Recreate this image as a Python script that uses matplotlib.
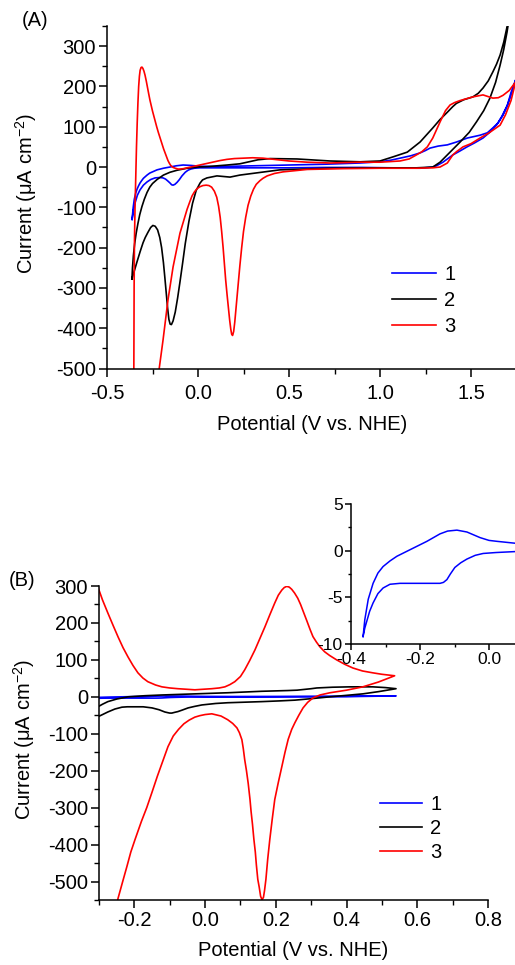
import numpy as np
import matplotlib
matplotlib.use("Agg")
import matplotlib.pyplot as plt
from matplotlib.ticker import MultipleLocator

plt.rcParams['font.family'] = ['Liberation Sans', 'DejaVu Sans']
plt.rcParams['mathtext.default'] = 'regular'
plt.rcParams['axes.unicode_minus'] = False

## data, panel (A): full CV loops (anodic sweep then cathodic sweep)
a_v1 = [-0.362, -0.356, -0.35, -0.343, -0.335, -0.327, -0.319, -0.31, -0.30, -0.29, -0.28, -0.265, -0.25,
        -0.225, -0.19, -0.154, -0.12, -0.082, -0.04, 0.011, 0.1, 0.3, 0.5, 0.7, 0.89, 1.0, 1.06, 1.11, 1.17,
        1.22, 1.25, 1.275, 1.32, 1.37, 1.42, 1.48, 1.55, 1.59, 1.62, 1.65, 1.676, 1.696, 1.714, 1.73, 1.745,
        1.72, 1.70, 1.67, 1.64, 1.60, 1.566, 1.52, 1.478, 1.44, 1.40, 1.37, 1.346, 1.31, 1.29, 1.22, 1.07,
        0.9, 0.7, 0.5, 0.3, 0.1, 0.011, -0.02, -0.04, -0.055, -0.07, -0.088, -0.102, -0.115, -0.127,
        -0.137, -0.145, -0.153, -0.165, -0.178, -0.192, -0.21, -0.236, -0.26, -0.28, -0.3, -0.319, -0.333,
        -0.345, -0.355, -0.362]
a_i1 = [-130, -100, -80, -66, -55, -47, -40, -34, -28, -24, -20, -15, -12,
        -7, -3, 0, 3, 5, 4, 2, 1, 3, 5, 7, 10, 13, 17, 22, 28,
        35, 41, 47, 52, 55, 62, 72, 79, 85, 97, 110, 129, 148, 171, 192, 216,
        185, 154, 126, 104, 85, 72, 60, 50, 40, 30, 20, 12, 3, 0, -3, -2,
        -1, -1, -2, -2, -2, -2, -3, -5, -8, -13, -22, -31, -38, -43,
        -45, -44, -40, -35, -30, -27, -26, -27, -31, -37, -45, -57, -70,
        -88, -108, -130]

a_v2 = [-0.363, -0.36, -0.355, -0.348, -0.34, -0.33, -0.32, -0.308, -0.295, -0.28, -0.265, -0.25,
        -0.225, -0.19, -0.154, -0.115, -0.06, 0.0, 0.05, 0.16, 0.23, 0.27, 0.33, 0.396, 0.544, 0.725,
        0.89, 1.0, 1.07, 1.15, 1.22, 1.29, 1.33, 1.37, 1.40, 1.42, 1.46, 1.51, 1.54, 1.566, 1.595, 1.62,
        1.64, 1.66, 1.68, 1.70, 1.72, 1.74,
        1.75, 1.72, 1.698, 1.68, 1.66, 1.635, 1.604, 1.57, 1.53, 1.49, 1.44, 1.385, 1.33, 1.29, 1.2, 1.0,
        0.725, 0.45, 0.23, 0.176, 0.104, 0.049, 0.025, 0.011, -0.01, -0.03, -0.05, -0.07, -0.085, -0.099,
        -0.112, -0.125, -0.137, -0.146, -0.153, -0.16, -0.167, -0.174, -0.182, -0.19, -0.2, -0.21,
        -0.222, -0.235, -0.248, -0.26, -0.275, -0.29, -0.302, -0.318, -0.335, -0.35, -0.363]
a_i2 = [-278, -250, -220, -190, -165, -140, -118, -98, -80, -63, -50, -41,
        -31, -20, -13, -8, -3, 0, 1, 5, 8, 12, 18, 21, 20, 15,
        13, 15, 25, 37, 62, 97, 118, 136, 150, 158, 167, 174, 183, 196, 214, 236,
        255, 278, 310, 352, 400, 480,
        480, 400, 335, 292, 253, 210, 171, 140, 112, 86, 62, 37, 12, 0, -2, -2,
        -3, -7, -20, -25, -22, -27, -32, -40, -58, -90, -135, -190, -240, -285,
        -325, -360, -382, -391, -390, -378, -350, -315, -275, -237, -200, -175,
        -156, -147, -145, -150, -162, -175, -188, -210, -235, -258, -278]

a_v3 = [-0.353, -0.352, -0.351, -0.349, -0.346, -0.342, -0.338, -0.334, -0.33, -0.326, -0.322, -0.318,
        -0.313, -0.308, -0.303, -0.297, -0.291, -0.284, -0.278, -0.271, -0.264, -0.257, -0.25, -0.243,
        -0.236, -0.227, -0.218, -0.208, -0.198, -0.189, -0.18, -0.172, -0.165, -0.157, -0.15, -0.143,
        -0.137, -0.125, -0.11, -0.095, -0.08, -0.06, -0.04, -0.01, 0.02, 0.05, 0.082, 0.12, 0.159, 0.2,
        0.25, 0.30, 0.357, 0.42, 0.5, 0.6, 0.725, 0.89, 1.0, 1.11, 1.16, 1.20, 1.23, 1.26, 1.29, 1.31,
        1.33, 1.36, 1.385, 1.41, 1.44, 1.51, 1.566, 1.60, 1.62, 1.65, 1.676, 1.71, 1.745,
        1.72, 1.69, 1.66, 1.60, 1.55, 1.50, 1.456, 1.42, 1.40, 1.37, 1.33, 1.29, 1.2, 1.0, 0.8, 0.6,
        0.467, 0.42, 0.38, 0.357, 0.34, 0.32, 0.305, 0.29, 0.275, 0.262, 0.25, 0.24, 0.23, 0.22, 0.21,
        0.202, 0.196, 0.19, 0.185, 0.18, 0.174, 0.167, 0.16, 0.152, 0.145, 0.138, 0.13, 0.122, 0.113,
        0.103, 0.09, 0.075, 0.06, 0.045, 0.027, 0.01, -0.006, -0.02, -0.033, -0.044, -0.06, -0.08,
        -0.099, -0.137, -0.165, -0.192, -0.214, -0.23]
a_i3 = [-560, -420, -300, -180, -100, -20, 50, 110, 160, 200, 225, 240,
        247, 248, 245, 238, 228, 213, 198, 182, 166, 152, 139, 127,
        115, 100, 86, 72, 58, 45, 34, 24, 16, 9, 4, 1,
        -1, -3, -5, -5, -4, -2, 0, 3, 6, 9, 12, 16, 19, 21,
        22, 23, 22, 19, 15, 12, 10, 12, 12, 15, 20, 30, 38, 50, 72, 92,
        112, 140, 154, 160, 165, 174, 179, 174, 171, 172, 178, 190, 211,
        165, 130, 104, 85, 72, 58, 50, 38, 30, 10, 0, -2, -3, -3, -4, -6,
        -12, -16, -22, -28, -34, -43, -55, -72, -95, -125, -160, -200, -245, -295, -345,
        -385, -408, -418, -415, -402, -380, -350, -318, -280, -240, -200, -160, -125, -97,
        -75, -60, -50, -46, -45, -46, -49, -54, -62, -72, -85, -105, -135,
        -164, -248, -330, -429, -503, -560]

## data, panel (B)
b_v1 = [-0.365, -0.36, -0.35, -0.336, -0.322, -0.307, -0.287, -0.267, -0.229, -0.18, -0.142, -0.12,
        -0.093, -0.064, -0.045, -0.026, 0.0, 0.023, 0.075, 0.2, 0.4, 0.54,
        0.4, 0.2, 0.075, 0.02, -0.017, -0.04, -0.064, -0.082, -0.099, -0.112, -0.122, -0.132, -0.142,
        -0.175, -0.209, -0.258, -0.287, -0.307, -0.322, -0.336, -0.346, -0.353, -0.36, -0.365]
b_i1 = [-9.2, -7.4, -5.2, -3.5, -2.4, -1.7, -1.1, -0.6, 0.1, 1.0, 1.8, 2.1,
        2.2, 2.0, 1.7, 1.4, 1.1, 1.0, 0.8, 1.0, 1.5, 2.5,
        0.5, 0.0, -0.1, -0.2, -0.3, -0.5, -0.9, -1.3, -1.8, -2.5, -3.1, -3.4, -3.5,
        -3.5, -3.5, -3.5, -3.6, -4.0, -4.6, -5.6, -6.5, -7.4, -8.3, -9.2]

b_v2 = [-0.303, -0.29, -0.275, -0.25, -0.218, -0.17, -0.122, -0.029, 0.064, 0.16, 0.234, 0.26, 0.28,
        0.3, 0.316, 0.36, 0.409, 0.474, 0.51, 0.54,
        0.49, 0.446, 0.40, 0.353, 0.3, 0.254, 0.211, 0.16, 0.064, 0.03, -0.009, -0.03, -0.048, -0.065,
        -0.077, -0.086, -0.094, -0.1, -0.105, -0.114, -0.13, -0.15, -0.175, -0.198, -0.22, -0.235, -0.255,
        -0.275, -0.29, -0.303]
b_i2 = [-27, -20, -13, -6, 0, 3, 5, 8, 11, 15, 17, 18, 20,
        22, 24, 26, 27, 27, 25, 22,
        14, 8, 4, 0, -5, -9, -11, -13, -16, -18, -22, -26, -30, -36,
        -40, -42, -44, -44, -43, -41, -35, -30, -27, -27, -27, -28, -33,
        -41, -48, -54]

b_v3 = [-0.303, -0.29, -0.275, -0.26, -0.246, -0.232, -0.218, -0.204, -0.19, -0.176, -0.162, -0.14,
        -0.122, -0.1, -0.077, -0.029, 0.019, 0.04, 0.056, 0.07, 0.084, 0.1, 0.112, 0.126, 0.141, 0.155,
        0.169, 0.183, 0.197, 0.207, 0.217, 0.224, 0.231, 0.238, 0.245, 0.253, 0.262, 0.27, 0.278, 0.288,
        0.297, 0.305, 0.315, 0.325, 0.338, 0.352, 0.372, 0.395, 0.418, 0.445, 0.474, 0.5, 0.536,
        0.49, 0.446, 0.40, 0.353, 0.325, 0.305, 0.29, 0.277, 0.265, 0.254, 0.245, 0.235, 0.226, 0.217,
        0.207, 0.197, 0.19, 0.183, 0.177, 0.172, 0.168, 0.165, 0.161, 0.157, 0.153, 0.149, 0.145, 0.142,
        0.138, 0.134, 0.13, 0.127, 0.122, 0.117, 0.112, 0.108, 0.104, 0.097, 0.09, 0.078, 0.064, 0.045,
        0.019, 0.0, -0.015, -0.029, -0.045, -0.06, -0.075, -0.09, -0.105, -0.12, -0.135, -0.15, -0.165,
        -0.18, -0.198, -0.21, -0.221, -0.233, -0.246, -0.255]
b_i3 = [297, 262, 227, 193, 162, 133, 108, 85, 65, 51, 41, 32,
        27, 24, 22, 19, 22, 24, 27, 33, 41, 55, 73, 98, 127, 158,
        189, 222, 254, 275, 289, 296, 299, 297, 291, 281, 267, 250, 230, 205,
        182, 163, 148, 135, 122, 112, 100, 88, 78, 70, 65, 61, 57,
        40, 27, 18, 11, 5, -3, -15, -30, -50, -70, -88, -115, -150, -189,
        -232, -278, -330, -386, -440, -494, -525, -543, -549, -540, -515, -494, -455, -420,
        -386, -345, -310, -278, -235, -200, -170, -140, -116, -97, -84, -72, -62, -52,
        -46, -48, -51, -55, -63, -73, -88, -106, -135, -175, -215, -258, -300,
        -337, -386, -420, -459, -500, -545, -580]

labels = ['1', '2', '3']
colors = ['#0000ff', '#000000', '#ff0000']
FS = 14.5

W, H = 515, 965
fig = plt.figure(figsize=(W / 100, H / 100), dpi=100)


def px_axes(left, top, right, bottom):
    return fig.add_axes([left / W, 1 - bottom / H, (right - left) / W, (bottom - top) / H])


def style(ax, fs, maj=6, mnr=3.5, xpad=2):
    for s in ['top', 'right']:
        ax.spines[s].set_visible(False)
    for s in ['left', 'bottom']:
        ax.spines[s].set_linewidth(1.1)
    ax.tick_params(which='major', direction='out', length=maj, width=1.1, labelsize=fs, pad=2)
    ax.tick_params(which='minor', direction='out', length=mnr, width=1.0)
    ax.tick_params(axis='x', which='major', pad=xpad)


## panel A
ax1 = px_axes(107, 26, 107 + 2.25 * 182, 368.5)
for v, i, lab, c in zip([a_v1, a_v2, a_v3], [a_i1, a_i2, a_i3], labels, colors):
    ax1.plot(v, i, color=c, lw=1.2, label=lab)
ax1.set_xlim(-0.5, 1.75)
ax1.set_ylim(-500, 350)
ax1.xaxis.set_major_locator(MultipleLocator(0.5))
ax1.xaxis.set_minor_locator(MultipleLocator(0.25))
ax1.yaxis.set_major_locator(MultipleLocator(100))
ax1.yaxis.set_minor_locator(MultipleLocator(50))
style(ax1, FS, xpad=5)
ax1.set_xlabel('Potential (V vs. NHE)', fontsize=FS)
ax1.set_ylabel('Current (μA cm$^{-2}$)', fontsize=FS)
ax1.xaxis.set_label_coords(0.5, -0.136)
ax1.yaxis.set_label_coords(-0.165, 0.51)
ax1.legend(loc='upper left', bbox_to_anchor=(392 / W, 1 - 265 / H), bbox_transform=fig.transFigure,
           frameon=False, fontsize=FS, handlelength=2.2, handletextpad=0.4, labelspacing=0.34,
           borderpad=0, borderaxespad=0)
fig.text(35 / W, 1 - 20 / H, '(A)', fontsize=FS, ha='center', va='center')

## panel B
ax2 = px_axes(99, 586, 488, 900)
for v, i, lab, c in zip([b_v1, b_v2, b_v3], [b_i1, b_i2, b_i3], labels, colors):
    ax2.plot(v, i, color=c, lw=1.2, label=lab)
ax2.set_xlim(-0.3, 0.8)
ax2.set_ylim(-550, 300)
ax2.xaxis.set_major_locator(MultipleLocator(0.2))
ax2.xaxis.set_minor_locator(MultipleLocator(0.1))
ax2.yaxis.set_major_locator(MultipleLocator(100))
ax2.yaxis.set_minor_locator(MultipleLocator(50))
style(ax2, FS, xpad=2)
ax2.set_xlabel('Potential (V vs. NHE)', fontsize=FS)
ax2.set_ylabel('Current (μA cm$^{-2}$)', fontsize=FS)
ax2.xaxis.set_label_coords(0.5, -0.13)
ax2.yaxis.set_label_coords(-0.16, 0.51)
ax2.legend(loc='upper left', bbox_to_anchor=(380 / W, 1 - 795 / H), bbox_transform=fig.transFigure,
           frameon=False, fontsize=FS, handlelength=2.1, handletextpad=0.4, labelspacing=0.25,
           borderpad=0, borderaxespad=0)
fig.text(22 / W, 1 - 580 / H, '(B)', fontsize=FS, ha='center', va='center')

## inset, curve 1 only
ax3 = px_axes(351, 504, 351 + 0.5 * 345, 644)
ax3.plot(b_v1, b_i1, color=colors[0], lw=1.1)
ax3.set_xlim(-0.4, 0.1)
ax3.set_ylim(-10, 5)
ax3.xaxis.set_major_locator(MultipleLocator(0.2))
ax3.xaxis.set_minor_locator(MultipleLocator(0.1))
ax3.yaxis.set_major_locator(MultipleLocator(5))
ax3.yaxis.set_minor_locator(MultipleLocator(2.5))
style(ax3, 12.5, maj=4, mnr=2.5)
ax3.patch.set_alpha(0)

fig.savefig('out.png', dpi=100)
